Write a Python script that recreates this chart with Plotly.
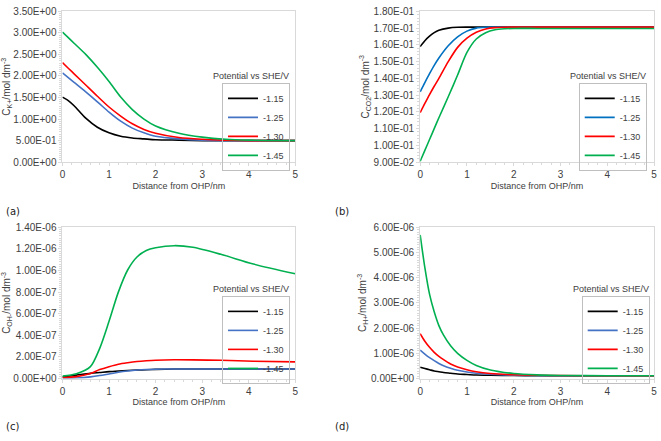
import plotly.graph_objects as go

# ---------------- data ----------------
series_names = ["-1.15", "-1.25", "-1.30", "-1.45"]
colors_acd = ["#000000", "#4472C4", "#FF0000", "#00B050"]
colors_b = ["#000000", "#0070C0", "#FF0000", "#00B050"]

x_ticks = [0, 1, 2, 3, 4, 5]
x_ticklabels = ["0", "1", "2", "3", "4", "5"]

# (a) K+ concentration
x_a = [0, 0.125, 0.25, 0.5, 0.75, 1.0, 1.25, 1.5, 1.75, 2.0, 2.5, 3.0, 3.5, 4.0, 5.0]
k_115 = [1.51, 1.43, 1.31, 1.02, 0.81, 0.68, 0.60, 0.56, 0.54, 0.52, 0.51, 0.50, 0.50, 0.50, 0.50]
k_125 = [2.07, 1.96, 1.85, 1.63, 1.40, 1.16, 0.95, 0.79, 0.68, 0.60, 0.54, 0.51, 0.50, 0.50, 0.50]
k_130 = [2.31, 2.18, 2.05, 1.79, 1.53, 1.28, 1.07, 0.89, 0.76, 0.67, 0.57, 0.53, 0.51, 0.50, 0.50]
k_145 = [3.02, 2.89, 2.76, 2.50, 2.20, 1.87, 1.51, 1.22, 1.00, 0.84, 0.67, 0.58, 0.53, 0.51, 0.50]
yticks_a = [0, 0.5, 1.0, 1.5, 2.0, 2.5, 3.0, 3.5]
yticklabels_a = ["0.00E+00", "5.00E-01", "1.00E+00", "1.50E+00", "2.00E+00", "2.50E+00", "3.00E+00", "3.50E+00"]

# (b) CO2 concentration
x_b = [0, 0.1, 0.2, 0.3, 0.4, 0.6, 0.8, 1.0, 1.2, 1.4, 1.6, 1.8, 2.0, 2.5, 3.0, 4.0, 5.0]
co2_115 = [0.1590, 0.1625, 0.1652, 0.1673, 0.1687, 0.1700, 0.1705, 0.1706, 0.1706, 0.1706, 0.1706, 0.1706, 0.1706, 0.1706, 0.1706, 0.1706, 0.1706]
co2_125 = [0.1320, 0.1375, 0.1428, 0.1478, 0.1522, 0.1595, 0.1648, 0.1682, 0.1700, 0.1705, 0.1706, 0.1706, 0.1706, 0.1706, 0.1706, 0.1706, 0.1706]
co2_130 = [0.1195, 0.1250, 0.1303, 0.1353, 0.1400, 0.1500, 0.1585, 0.1640, 0.1675, 0.1695, 0.1703, 0.1705, 0.1706, 0.1706, 0.1706, 0.1706, 0.1706]
co2_145 = [0.0905, 0.0970, 0.1035, 0.1100, 0.1165, 0.1290, 0.1420, 0.1555, 0.1635, 0.1672, 0.1690, 0.1696, 0.1698, 0.1698, 0.1698, 0.1698, 0.1698]
yticks_b = [0.09, 0.10, 0.11, 0.12, 0.13, 0.14, 0.15, 0.16, 0.17, 0.18]
yticklabels_b = ["9.00E-02", "1.00E-01", "1.10E-01", "1.20E-01", "1.30E-01", "1.40E-01", "1.50E-01", "1.60E-01", "1.70E-01", "1.80E-01"]

# (c) OH- concentration
x_c = [0, 0.3, 0.6, 0.8, 1.0, 1.2, 1.4, 1.6, 1.8, 2.0, 2.4, 2.8, 3.4, 4.1, 5.0]
oh_115 = [1.6e-8, 3.2e-8, 4.8e-8, 5.6e-8, 6.4e-8, 7.0e-8, 7.5e-8, 7.9e-8, 8.2e-8, 8.5e-8, 8.8e-8, 8.9e-8, 8.9e-8, 8.9e-8, 8.9e-8]
oh_125 = [2.0e-9, 5.0e-9, 1.6e-8, 2.8e-8, 4.3e-8, 5.8e-8, 7.0e-8, 7.9e-8, 8.4e-8, 8.7e-8, 8.9e-8, 8.9e-8, 8.9e-8, 8.9e-8, 8.9e-8]
oh_130 = [1.0e-8, 1.8e-8, 4.7e-8, 8.3e-8, 1.10e-7, 1.33e-7, 1.47e-7, 1.58e-7, 1.65e-7, 1.70e-7, 1.74e-7, 1.73e-7, 1.69e-7, 1.61e-7, 1.55e-7]
oh_145 = [2.3e-8, 4.5e-8, 1.10e-7, 2.80e-7, 5.30e-7, 8.00e-7, 1.005e-6, 1.125e-6, 1.185e-6, 1.21e-6, 1.23e-6, 1.215e-6, 1.15e-6, 1.06e-6, 9.7e-7]
yticks_c = [0, 2e-7, 4e-7, 6e-7, 8e-7, 1.0e-6, 1.2e-6, 1.4e-6]
yticklabels_c = ["0.00E+00", "2.00E-07", "4.00E-07", "6.00E-07", "8.00E-07", "1.00E-06", "1.20E-06", "1.40E-06"]

# (d) H+ concentration
x_d = [0, 0.1, 0.2, 0.3, 0.4, 0.5, 0.65, 0.8, 1.0, 1.2, 1.5, 2.0, 2.5, 3.0, 4.0, 5.0]
h_115 = [4.5e-7, 4.0e-7, 3.5e-7, 3.0e-7, 2.7e-7, 2.4e-7, 2.1e-7, 1.8e-7, 1.6e-7, 1.4e-7, 1.3e-7, 1.2e-7, 1.1e-7, 1.1e-7, 1.1e-7, 1.1e-7]
h_125 = [1.13e-6, 9.7e-7, 8.3e-7, 7.1e-7, 6.0e-7, 5.1e-7, 4.1e-7, 3.3e-7, 2.6e-7, 2.1e-7, 1.7e-7, 1.3e-7, 1.2e-7, 1.1e-7, 1.1e-7, 1.1e-7]
h_130 = [1.78e-6, 1.48e-6, 1.24e-6, 1.04e-6, 8.8e-7, 7.5e-7, 5.8e-7, 4.6e-7, 3.5e-7, 2.7e-7, 2.0e-7, 1.5e-7, 1.3e-7, 1.2e-7, 1.1e-7, 1.1e-7]
h_145 = [5.70e-6, 4.40e-6, 3.35e-6, 2.65e-6, 2.10e-6, 1.72e-6, 1.30e-6, 1.00e-6, 7.2e-7, 5.2e-7, 3.4e-7, 2.0e-7, 1.45e-7, 1.25e-7, 1.1e-7, 1.1e-7]
yticks_d = [0, 1e-6, 2e-6, 3e-6, 4e-6, 5e-6, 6e-6]
yticklabels_d = ["0.00E+00", "1.00E-06", "2.00E-06", "3.00E-06", "4.00E-06", "5.00E-06", "6.00E-06"]

legend_title = "Potential vs SHE/V"
x_title = "Distance from OHP/nm"
y_title_a = "C<sub>K+</sub>/mol dm<sup>-3</sup>"
y_title_b = "C<sub>CO2</sub>/mol dm<sup>-3</sup>"
y_title_c = "C<sub>OH-</sub>/mol dm<sup>-3</sup>"
y_title_d = "C<sub>H+</sub>/mol dm<sup>-3</sup>"
panel_labels = ["(a)", "(b)", "(c)", "(d)"]

# ---------------- figure ----------------
W, H = 661, 441
FONT = "Liberation Sans, Arial, sans-serif"
TXT = "#404040"
LINEC = "#d9d9d9"

fig = go.Figure()

panels = [
    (x_a, [k_115, k_125, k_130, k_145], colors_acd, "x", "y", "legend"),
    (x_b, [co2_115, co2_125, co2_130, co2_145], colors_b, "x2", "y2", "legend2"),
    (x_c, [oh_115, oh_125, oh_130, oh_145], colors_acd, "x3", "y3", "legend3"),
    (x_d, [h_115, h_125, h_130, h_145], colors_acd, "x4", "y4", "legend4"),
]
for xs, ys_list, cols, xa, ya, lg in panels:
    for name, ys, c in zip(series_names, ys_list, cols):
        fig.add_trace(go.Scatter(
            x=xs, y=ys, name=name, mode="lines",
            line=dict(color=c, width=1.6, shape="spline", smoothing=0.8),
            xaxis=xa, yaxis=ya, legend=lg, hoverinfo="skip",
        ))

def px_x(p):
    return p / W

def px_y(p):
    return 1 - p / H

dom_x_left = [px_x(60), px_x(295)]
dom_x_right = [px_x(421), px_x(657)]
dom_y_top = [px_y(160.5), px_y(5.5)]
dom_y_bot = [px_y(383), px_y(227.5)]

def xaxis(domain, anchor):
    return dict(
        domain=domain, anchor=anchor, range=[0, 5],
        tickmode="array", tickvals=x_ticks, ticktext=x_ticklabels,
        showline=True, mirror=True, linecolor=LINEC, linewidth=1,
        ticks="outside", ticklen=3, tickcolor=LINEC,
        minor=dict(dtick=0.2, ticks="outside", ticklen=2, tickcolor=LINEC),
        showgrid=False, zeroline=False,
        tickfont=dict(family=FONT, size=10, color=TXT),
        title=dict(text=x_title, font=dict(family=FONT, size=9, color=TXT), standoff=3),
    )

def yaxis(domain, anchor, rng, tv, tt, title, minor_dtick):
    return dict(
        domain=domain, anchor=anchor, range=rng,
        tickmode="array", tickvals=tv, ticktext=tt,
        showline=True, mirror=True, linecolor=LINEC, linewidth=1,
        ticks="outside", ticklen=3, tickcolor=LINEC,
        minor=dict(dtick=minor_dtick, ticks="outside", ticklen=2, tickcolor=LINEC),
        showgrid=False, zeroline=False,
        tickfont=dict(family=FONT, size=10, color=TXT),
        title=dict(text=title, font=dict(family=FONT, size=10, color=TXT), standoff=2),
    )

legend_common = dict(
    bgcolor="rgba(255,255,255,0)", bordercolor="#bfbfbf", borderwidth=1,
    font=dict(family=FONT, size=9, color=TXT),
    xanchor="left", yanchor="top", itemwidth=30,
    tracegroupgap=0,
)

fig.update_layout(
    width=W, height=H,
    margin=dict(l=0, r=0, t=0, b=0),
    paper_bgcolor="white", plot_bgcolor="white",
    showlegend=True,
    xaxis=xaxis(dom_x_left, "y"),
    yaxis=yaxis(dom_y_top, "x", [0, 3.5], yticks_a, yticklabels_a, y_title_a, 0.05),
    xaxis2=xaxis(dom_x_right, "y2"),
    yaxis2=yaxis(dom_y_top, "x2", [0.09, 0.18], yticks_b, yticklabels_b, y_title_b, 0.002),
    xaxis3=xaxis(dom_x_left, "y3"),
    yaxis3=yaxis(dom_y_bot, "x3", [0, 1.4e-6], yticks_c, yticklabels_c, y_title_c, 2e-8),
    xaxis4=xaxis(dom_x_right, "y4"),
    yaxis4=yaxis(dom_y_bot, "x4", [0, 6e-6], yticks_d, yticklabels_d, y_title_d, 1e-7),
    legend=dict(legend_common, x=px_x(221), y=px_y(79)),
    legend2=dict(legend_common, x=px_x(581), y=px_y(79)),
    legend3=dict(legend_common, x=px_x(221), y=px_y(298)),
    legend4=dict(legend_common, x=px_x(584), y=px_y(298)),
)

ann = []
for (cx, cy) in [(250, 72), (611, 72), (250, 291), (614, 291)]:
    ann.append(dict(text=legend_title, x=px_x(cx), y=px_y(cy), xref="paper", yref="paper",
                    xanchor="center", yanchor="middle", showarrow=False,
                    font=dict(family=FONT, size=9, color=TXT)))
for lbl, (lx, ly) in zip(panel_labels, [(1, 211), (333, 211), (1, 432), (333, 432)]):
    ann.append(dict(text=lbl, x=px_x(lx), y=px_y(ly), xref="paper", yref="paper",
                    xanchor="left", yanchor="middle", showarrow=False,
                    font=dict(family="DejaVu Sans, sans-serif", size=10, color="#222222")))
fig.update_layout(annotations=ann)

fig.write_html("out.html", config={"displayModeBar": False},
               post_script="document.body.style.margin='0';")
